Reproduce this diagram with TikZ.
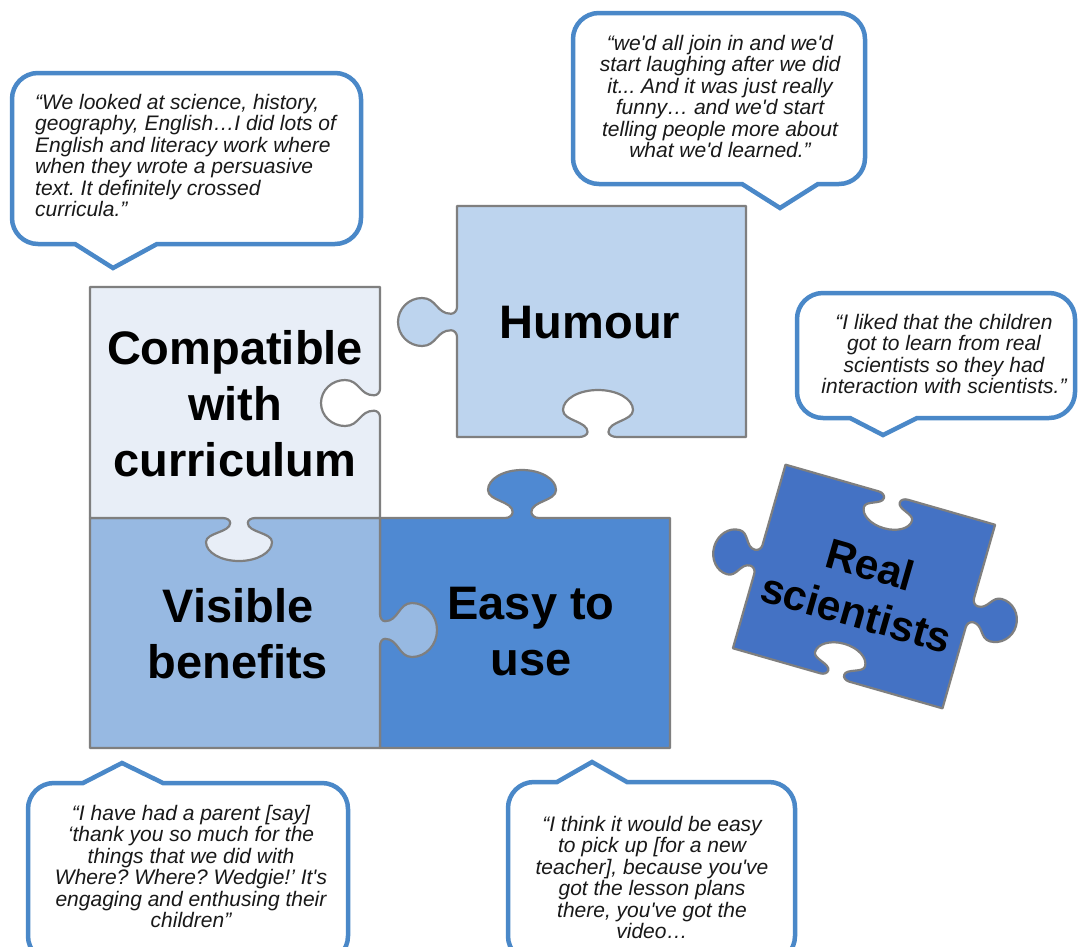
\documentclass[tikz,border=0pt]{standalone}
\usepackage{fontspec}
\setmainfont{Liberation Sans}
\frenchspacing
\definecolor{cComp}{HTML}{E8EEF7}
\definecolor{cHum}{HTML}{BDD4EE}
\definecolor{cVis}{HTML}{97B9E2}
\definecolor{cEasy}{HTML}{4F89D2}
\definecolor{cReal}{HTML}{4472C4}
\definecolor{cEdge}{HTML}{7F7F7F}
\definecolor{cCall}{HTML}{4A88C8}
\newcommand\sq{\textquotesingle}
% point in a local edge frame: #1,#2 edge point, #3 travel angle, #4 side sign, #5 along, #6 outward
\newcommand\jpt[6]{({#1+(#5)*cos(#3)+(#4)*(#6)*sin(#3)},{#2+(#5)*sin(#3)-(#4)*(#6)*cos(#3)})}
% jigsaw tab: #5 half neck at edge, #6 neck height, #7 bulb centre distance, #8 bulb radius along, #9 bulb radius out
\newcommand\tabseg[9]{%
 -- \jpt{#1}{#2}{#3}{#4}{-1*(#5)}{0}
 .. controls \jpt{#1}{#2}{#3}{#4}{-0.752*(#5)}{0} and \jpt{#1}{#2}{#3}{#4}{-0.55*(#5)}{0.448*(#6)} .. \jpt{#1}{#2}{#3}{#4}{-0.55*(#5)}{#6}
 .. controls \jpt{#1}{#2}{#3}{#4}{-0.55*(#5)}{(#6)+0.5*((#7)-(#6))} and \jpt{#1}{#2}{#3}{#4}{-1*(#8)}{(#7)-0.5*((#7)-(#6))} .. \jpt{#1}{#2}{#3}{#4}{-1*(#8)}{#7}
 .. controls \jpt{#1}{#2}{#3}{#4}{-1*(#8)}{(#7)+0.552*(#9)} and \jpt{#1}{#2}{#3}{#4}{-0.552*(#8)}{(#7)+(#9)} .. \jpt{#1}{#2}{#3}{#4}{0}{(#7)+(#9)}
 .. controls \jpt{#1}{#2}{#3}{#4}{0.552*(#8)}{(#7)+(#9)} and \jpt{#1}{#2}{#3}{#4}{#8}{(#7)+0.552*(#9)} .. \jpt{#1}{#2}{#3}{#4}{#8}{#7}
 .. controls \jpt{#1}{#2}{#3}{#4}{#8}{(#7)-0.5*((#7)-(#6))} and \jpt{#1}{#2}{#3}{#4}{0.55*(#5)}{(#6)+0.5*((#7)-(#6))} .. \jpt{#1}{#2}{#3}{#4}{0.55*(#5)}{#6}
 .. controls \jpt{#1}{#2}{#3}{#4}{0.55*(#5)}{0.448*(#6)} and \jpt{#1}{#2}{#3}{#4}{0.752*(#5)}{0} .. \jpt{#1}{#2}{#3}{#4}{#5}{0}
}
\newcommand\jigpiece[2]{\edef\jigtmp{\noexpand\draw[piece,fill=#1] #2;}\jigtmp}
% callout boxes: L T R B base1 tipx tipy base2
\newcommand\calloutdown[8]{%
\draw[callout] ({#1+26},#2) -- ({#3-26},#2) .. controls ({#3-11.65},#2) and (#3,{#2+11.65}) .. (#3,{#2+26})
 -- (#3,{#4-26}) .. controls (#3,{#4-11.65}) and ({#3-11.65},#4) .. ({#3-26},#4)
 -- (#8,#4) -- (#6,#7) -- (#5,#4)
 -- ({#1+26},#4) .. controls ({#1+11.65},#4) and (#1,{#4-11.65}) .. (#1,{#4-26})
 -- (#1,{#2+26}) .. controls (#1,{#2+11.65}) and ({#1+11.65},#2) .. ({#1+26},#2) -- cycle;}
\newcommand\calloutup[8]{%
\draw[callout] ({#1+26},#2) -- (#5,#2) -- (#6,#7) -- (#8,#2)
 -- ({#3-26},#2) .. controls ({#3-11.65},#2) and (#3,{#2+11.65}) .. (#3,{#2+26})
 -- (#3,{#4-26}) .. controls (#3,{#4-11.65}) and ({#3-11.65},#4) .. ({#3-26},#4)
 -- ({#1+26},#4) .. controls ({#1+11.65},#4) and (#1,{#4-11.65}) .. (#1,{#4-26})
 -- (#1,{#2+26}) .. controls (#1,{#2+11.65}) and ({#1+11.65},#2) .. ({#1+26},#2) -- cycle;}
\tikzset{
  piece/.style={draw=cEdge, line width=2.2pt, line join=round},
  callout/.style={draw=cCall, line width=4.5pt, fill=white},
  lbl/.style={font=\bfseries\fontsize{47}{56}\selectfont, align=center, inner sep=0pt, text=black},
  lblr/.style={font=\bfseries\fontsize{42.5}{50}\selectfont, align=center, inner sep=0pt, text=black},
  quote/.style={font=\itshape\fontsize{21}{21.4}\selectfont, inner sep=0pt, text=black!90}
}
\begin{document}
\begin{tikzpicture}[x=1pt,y=-1pt]
\useasboundingbox (0,0) rectangle (1078,946);
\clip (0,0) rectangle (1078,946);
\fill[white] (0,0) rectangle (1078,946);

% puzzle pieces
\jigpiece{cEasy}{(380,518) \tabseg{522}{518}{0}{1}{17}{6}{28}{34}{20} -- (670,518) -- (670,748) -- (380,748) -- cycle}
\jigpiece{cVis}{(90,518) -- (380,518) \tabseg{380}{630}{90}{1}{16}{5}{32}{27}{25} -- (380,748) -- (90,748) -- cycle}
\jigpiece{cComp}{(90,287) -- (380,287) \tabseg{380}{403}{90}{-1}{14}{6}{35}{23}{24} -- (380,518) \tabseg{239}{518}{180}{1}{16}{5}{24}{33}{19} -- (90,518) -- cycle}
\jigpiece{cHum}{(457,206) -- (746,206) -- (746,437) \tabseg{598}{437}{180}{-1}{19}{5}{27}{35}{20} -- (457,437) \tabseg{457}{322}{270}{1}{15}{6}{35}{24}{24} -- cycle}
\begin{scope}[shift={(864,586.5)}, rotate=-16]
\jigpiece{cReal}{(-109,-95.5) \tabseg{3}{-95.5}{0}{-1}{15}{5}{19}{25}{15} -- (109,-95.5) \tabseg{109}{-4}{90}{1}{15}{6}{27}{22}{21} -- (109,95.5) \tabseg{-3}{95.5}{180}{-1}{15}{5}{19}{26}{16} -- (-109,95.5) \tabseg{-109}{3}{270}{1}{15}{6}{26}{23}{20} -- cycle}
\node[lblr, transform shape] (real) at (0,2) {Real\\scientists};
\end{scope}

\node[lbl] (compat) at (235,404) {Compatible\\with\\curriculum};
\node[lbl] (humour) at (590,323) {Humour};
\node[lbl] (visible) at (238,634) {Visible\\benefits};
\node[lbl] (easy) at (531,632) {Easy to\\use};

% callouts
\calloutdown{12}{73}{361}{244}{75}{113}{268}{157}
\calloutdown{573}{13}{865}{184}{742}{780}{208}{818}
\calloutdown{797}{293}{1075}{418}{850}{883}{435}{917}
\calloutup{28}{783}{348}{962}{83}{122}{763}{163}
\calloutup{508}{782}{795}{962}{557}{592}{762}{627}

\node[quote, align=left, anchor=north west] (q1) at (35,94) {“We looked at science, history,\\geography, English…I did lots of\\English and literacy work where\\when they wrote a persuasive\\text. It definitely crossed\\curricula.”};
\node[quote, align=center, anchor=north] (q2) at (720,35) {“we\sq d all join in and we\sq d\\start laughing after we did\\it... And it was just really\\funny… and we\sq d start\\telling people more about\\what we\sq d learned.”};
\node[quote, align=center, anchor=north] (q3) at (944,314) {“I liked that the children\\got to learn from real\\scientists so they had\\interaction with scientists."};
\node[quote, align=center, anchor=north] (q4) at (191,805) {“I have had a parent [say]\\‘thank you so much for the\\things that we did with\\Where? Where? Wedgie!’ It\sq s\\engaging and enthusing their\\children”};
\node[quote, align=center, anchor=north] (q5) at (652,816) {“I think it would be easy\\to pick up [for a new\\teacher], because you\sq ve\\got the lesson plans\\there, you\sq ve got the\\video…};
\end{tikzpicture}
\end{document}
